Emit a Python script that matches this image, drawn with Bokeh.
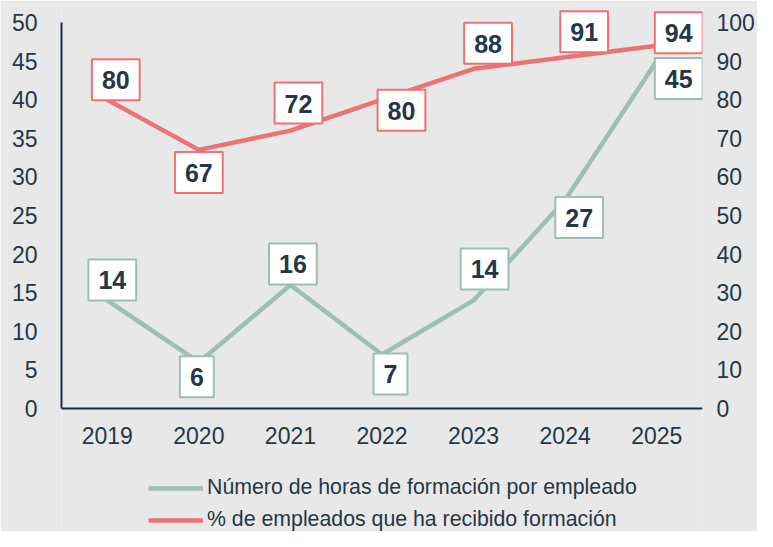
from bokeh.plotting import figure
from bokeh.models import (Range1d, LinearAxis, FixedTicker, ColumnDataSource,
                          Legend, LegendItem, FactorRange)
from bokeh.core.properties import value
from bokeh.embed import file_html
from bokeh.resources import INLINE

years = ["2019", "2020", "2021", "2022", "2023", "2024", "2025"]
horas = [14, 6, 16, 7, 14, 27, 45]
pct = [80, 67, 72, 80, 88, 91, 94]
left_ticks = [0, 5, 10, 15, 20, 25, 30, 35, 40, 45, 50]
right_ticks = [0, 10, 20, 30, 40, 50, 60, 70, 80, 90, 100]
left_max = 50
right_max = 100
label_horas = "Número de horas de formación por empleado"
label_pct = "% de empleados que ha recibido formación"

# label placement (screen px offsets from each point)
horas_dx = [5, -2, 2.5, 8.5, 11, 14, 22]
horas_dy = [-20.5, 14.5, -21, 19.5, -31.5, 17.5, 17.5]
pct_dx = [8.5, 0, 8, 19.5, 14.5, 19, 22]
pct_dy = [-20, 22.5, -27.5, 10.5, -25.5, -25.5, -13]

BG = "#e8e8e8"
TXT = "#253746"
AXIS = "#1b2d45"
GREEN = "#9dbfb3"
RED = "#ec7373"
FONT = "Liberation Sans"

# geometry (px)
W, H = 757, 531
LEFT, RIGHT_W, TOP = 61, 47, 6
PX_MAX, PX_ZERO = 22, 408   # pixel rows of the axis maximum and of zero
ppu = (PX_ZERO - PX_MAX) / left_max
y_lo = -(H - PX_ZERO) / ppu
y_hi = (PX_ZERO - TOP) / ppu
k = right_max / left_max

p = figure(width=W, height=H, output_backend="svg", toolbar_location=None,
           x_range=FactorRange(*years, range_padding=0),
           y_range=Range1d(y_lo, y_hi),
           min_border_left=LEFT, min_border_right=RIGHT_W, min_border_top=TOP,
           min_border_bottom=0)
p.background_fill_color = BG
p.border_fill_color = BG
p.outline_line_color = None
p.grid.visible = False
p.extra_y_ranges = {"pct": Range1d(y_lo * k, y_hi * k)}

for ax in p.axis:
    ax.major_tick_line_color = None
    ax.minor_tick_line_color = None
    ax.major_label_text_font = FONT
    ax.major_label_text_font_size = "23px"
    ax.major_label_text_color = TXT
    ax.axis_line_color = AXIS
    ax.axis_line_width = 2
p.xaxis.major_label_standoff = 12
p.xaxis.fixed_location = 0
p.yaxis.ticker = FixedTicker(ticks=left_ticks)
p.yaxis.bounds = (0, left_max)
p.yaxis.major_label_standoff = 18

rax = LinearAxis(y_range_name="pct", ticker=FixedTicker(ticks=right_ticks),
                 bounds=(0, right_max))
rax.axis_line_color = None
rax.major_tick_line_color = None
rax.minor_tick_line_color = None
rax.major_label_text_font = FONT
rax.major_label_text_font_size = "23px"
rax.major_label_text_color = TXT
rax.major_label_standoff = 8
p.add_layout(rax, "right")

src_h = ColumnDataSource(dict(x=years, y=horas, t=[str(v) for v in horas],
                              dx=horas_dx, dy=horas_dy))
src_p = ColumnDataSource(dict(x=years, y=pct, t=[str(v) for v in pct],
                              dx=pct_dx, dy=pct_dy))

lh = p.line("x", "y", source=src_h, line_color=GREEN, line_width=4.5,
            line_join="round")
lp = p.line("x", "y", source=src_p, line_color=RED, line_width=4.5,
            line_join="round", y_range_name="pct")

pad = dict(left=10, right=10, top=12, bottom=11)
for src, col, rng in [(src_h, GREEN, "default"), (src_p, RED, "pct")]:
    kw = {} if rng == "default" else {"y_range_name": "pct"}
    p.text("x", "y", text="t", source=src, x_offset="dx", y_offset="dy",
           text_align="center", text_baseline="middle",
           text_font=value(FONT), text_font_style="bold",
           text_font_size="25px", text_color=TXT,
           background_fill_color="white", border_line_color=col,
           border_line_width=2, padding=pad, **kw)

legend = Legend(items=[LegendItem(label=label_horas, renderers=[lh]),
                       LegendItem(label=label_pct, renderers=[lp])],
                location=(87, -1), orientation="vertical",
                glyph_width=55, glyph_height=20, label_height=20,
                label_standoff=4, spacing=7, padding=0, margin=0,
                background_fill_alpha=0, border_line_alpha=0,
                label_text_font=FONT, label_text_font_size="21.3px",
                label_text_color=TXT)
p.add_layout(legend, "center")

open("out.html", "w").write(file_html(p, INLINE))
